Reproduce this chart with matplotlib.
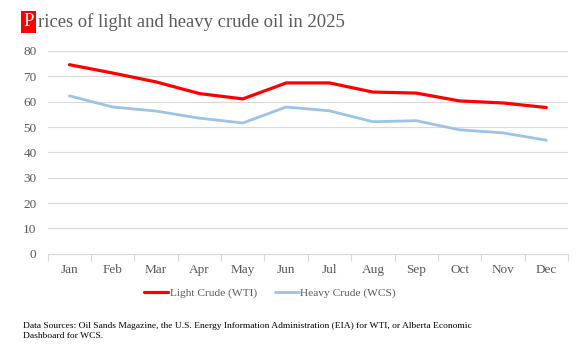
import matplotlib.pyplot as plt
import numpy as np

plt.rcParams['font.family'] = ['Liberation Serif', 'DejaVu Serif']

months = ["Jan", "Feb", "Mar", "Apr", "May", "Jun",
          "Jul", "Aug", "Sep", "Oct", "Nov", "Dec"]
wti = [74.6, 71.3, 67.8, 63.2, 61.1, 67.4, 67.4, 63.8, 63.4, 60.3, 59.5, 57.7]
wcs = [62.3, 57.9, 56.3, 53.5, 51.6, 57.9, 56.4, 52.1, 52.5, 48.9, 47.7, 44.8]
yticks = [0, 10, 20, 30, 40, 50, 60, 70, 80]

GRAY = "#595959"
GRID = "#d9d9d9"

fig = plt.figure(figsize=(5.87, 3.49), dpi=100)
ax = fig.add_axes([0.0813, 0.2728, 0.8863, 0.5811])

x = np.arange(len(months))
ax.plot(x, wti, color="#ff0000", lw=2.3, label="Light Crude (WTI)", solid_capstyle="round")
ax.plot(x, wcs, color="#9dc3e6", lw=2.0, label="Heavy Crude (WCS)", solid_capstyle="round")

ax.set_xlim(-0.5, len(months) - 0.5)
ax.set_ylim(0, 80)
ax.set_yticks(yticks)
ax.set_xticks(x, months)
ax.set_xticks(np.arange(-0.5, len(months)), minor=True)
ax.tick_params(axis="x", which="major", length=0, pad=7, labelsize=9.5, labelcolor=GRAY)
ax.tick_params(axis="x", which="minor", length=5, color=GRID, width=0.8)
ax.tick_params(axis="y", length=0, pad=8, labelsize=9.5, labelcolor=GRAY)
ax.grid(axis="y", color=GRID, lw=0.8)
ax.set_axisbelow(True)
for s in ["top", "right", "left"]:
    ax.spines[s].set_visible(False)
ax.spines["bottom"].set_color(GRID)
ax.spines["bottom"].set_linewidth(0.8)

leg = fig.legend(loc="center", bbox_to_anchor=(0.46, 0.16), ncol=2, frameon=False,
                 fontsize=8.2, handlelength=2.1, handletextpad=0.1, columnspacing=1.6)
for t in leg.get_texts():
    t.set_color(GRAY)

# title with red initial
fig.text(0.040, 0.937, "P", color="white", fontsize=13.4, va="center", ha="left",
         bbox=dict(boxstyle="square,pad=0.12", fc="#ff0000", ec="none"))
fig.text(0.064, 0.937, "rices of light and heavy crude oil in 2025", color=GRAY,
         fontsize=13.4, va="center", ha="left")

fig.text(0.039, 0.052, "Data Sources: Oil Sands Magazine, the U.S. Energy Information Administration (EIA) for WTI, or Alberta Economic\nDashboard for WCS.",
         fontsize=6.8, color="black", va="center", ha="left", linespacing=1.25)

fig.savefig("out.png", dpi=100)
